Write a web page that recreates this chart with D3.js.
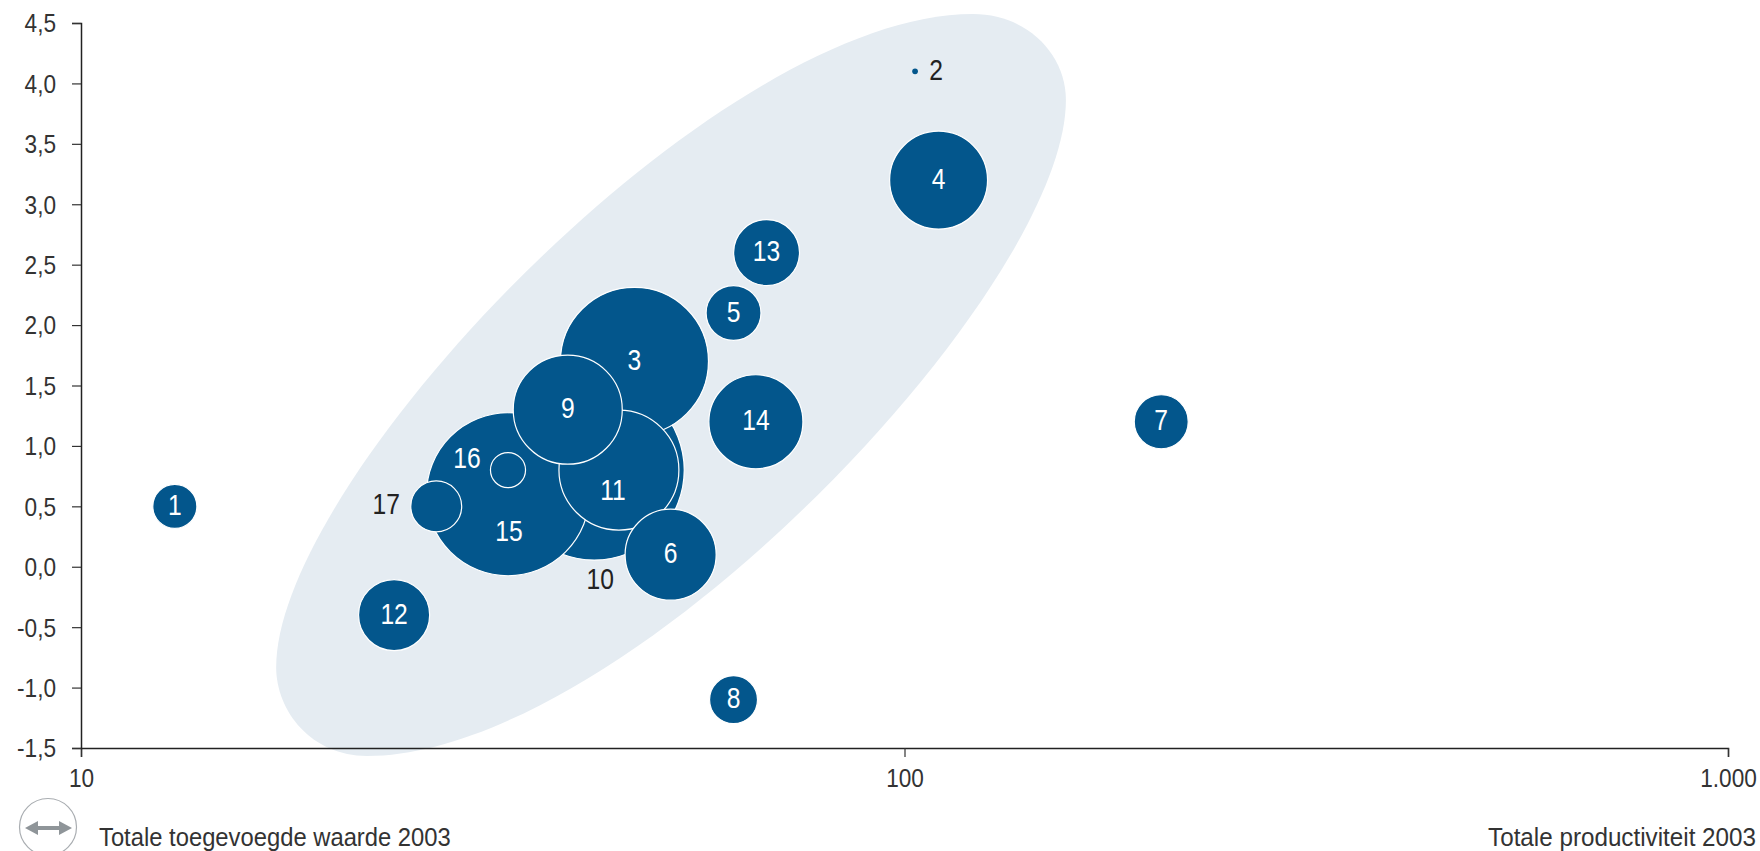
<!DOCTYPE html>
<html><head><meta charset="utf-8">
<script src="https://cdn.jsdelivr.net/npm/d3@7"></script>
<style>html,body{margin:0;padding:0;background:#fff;overflow:hidden}svg{display:block}
text{font-family:"Liberation Sans",Arial,sans-serif;fill:#333}</style>
</head><body><svg id="c" width="1760" height="851"></svg>
<script>
const ids=[1,2,3,4,5,6,7,8,9,10,11,12,13,14,15,16,17];
const productivity=[13,103,47,110,62,52,205,62,39,42,45,24,68,66,33,33,27];
const growth=[0.5,4.1,1.7,3.2,2.1,0.1,1.2,-1.1,1.3,0.8,0.8,-0.4,2.6,1.2,0.6,0.8,0.5];
const added=[6,0.1,67.6,29.6,9.3,25.6,9,7.1,36.7,100,44.4,15.6,13.4,27.3,82,3.8,8];
const drawOrder=[1,2,4,5,7,8,12,13,14,10,3,15,11,16,17,9,6];
const xTicks=[10,100,1000];
const xTickLabels=["10","100","1.000"];
const yTicks=[-1.5,-1,-0.5,0,0.5,1,1.5,2,2.5,3,3.5,4,4.5];
const xTitle="Totale toegevoegde waarde 2003";
const xTitleRight="Totale productiviteit 2003";
// Bezier outline of the shaded cluster in axis units: log10(productivity), growth
const clusterLog=[2.083,2.150,2.196,2.196,2.196,1.659,1.347,1.2805,1.237,1.237,1.237,1.771,2.083];
const clusterGrowth=[4.574,4.574,4.235,3.863,2.274,-1.566,-1.566,-1.566,-1.202,-0.83,0.734,4.574,4.574];
const labelOffset={2:[21,0,1],10:[6,110,1],16:[-41,-11,0],17:[-50,-1,1],15:[1,38,0],11:[-6,21,0]};

const svg=d3.select("#c");
const x=d3.scaleLog().domain([10,1000]).range([81,1728]);
const y=d3.scaleLinear().domain([-1.5,4.5]).range([748,23]);
const r=d3.scaleSqrt().domain([0,100]).range([0,90]);

const pts=clusterLog.map((l,i)=>[x(Math.pow(10,l)),y(clusterGrowth[i])]);
const outline=d3.path();
outline.moveTo(pts[0][0],pts[0][1]);
for(let i=1;i+2<pts.length;i+=3)outline.bezierCurveTo(pts[i][0],pts[i][1],pts[i+1][0],pts[i+1][1],pts[i+2][0],pts[i+2][1]);
outline.closePath();
svg.append("path").attr("d",outline.toString()).attr("fill","#e5ecf2");

const tickK=0.87;
const xa=svg.append("g").attr("transform","translate(0,748)")
  .call(d3.axisBottom(x).tickValues(xTicks).tickSize(9).tickFormat((d,i)=>xTickLabels[i]));
const ya=svg.append("g").attr("transform","translate(81,0)")
  .call(d3.axisLeft(y).tickValues(yTicks).tickSize(9).tickFormat(d=>d3.format(".1f")(d).replace(".",",").replace("−","-")));
[xa,ya].forEach(a=>{a.selectAll("path").attr("stroke","#222").attr("stroke-width",1.5);
  a.selectAll("line").attr("stroke","#333").attr("stroke-width",1.2);
  a.selectAll("text").style("font-size","26px").style("font-family",'"Liberation Sans",Arial,sans-serif').attr("fill","#333")
   .attr("transform",`scale(${tickK},1)`);});
xa.selectAll("text").attr("y",21).attr("dy","0.71em");
ya.selectAll("text").attr("x",-25/tickK).attr("dy","0.34em");

const rows=drawOrder.map(id=>{const i=ids.indexOf(id);return {id,x:productivity[i],y:growth[i],s:added[i]};});
svg.append("g").selectAll("circle").data(rows).join("circle")
  .attr("cx",d=>x(d.x)).attr("cy",d=>y(d.y)).attr("r",d=>r(d.s))
  .attr("fill","#03568c").attr("stroke","#fff").attr("stroke-width",d=>d.id===2?0:1.2);
svg.append("g").selectAll("text").data(rows).join("text")
  .attr("transform",d=>{const o=labelOffset[d.id]||[0,0];return `translate(${x(d.x)+o[0]},${y(d.y)+o[1]}) scale(0.85,1)`;})
  .attr("text-anchor","middle").attr("dy","0.30em").style("font-size","29px")
  .style("fill",d=>labelOffset[d.id]&&labelOffset[d.id][2]?"#222":"#fff")
  .text(d=>d.id);

const t1=svg.append("text").attr("transform","translate(99,846)").style("font-size","25px").text(xTitle);
const t2=svg.append("text").attr("transform","translate(1756,846)").attr("text-anchor","end").style("font-size","25px").text(xTitleRight);
t1.attr("transform",`translate(99,846) scale(${352/t1.node().getComputedTextLength()},1)`);
t2.attr("transform",`translate(1756,846) scale(${268/t2.node().getComputedTextLength()},1)`);

// direction icon
const ic=svg.append("g");
ic.append("circle").attr("cx",48).attr("cy",827).attr("r",28.5).attr("fill","#fff").attr("stroke","#a9adb1").attr("stroke-width",1.2);
ic.append("path").attr("d","M25 828l13-7v5h21v-5l13 7l-13 7v-5h-21v5z").attr("fill","#8f9599");
</script></body></html>
